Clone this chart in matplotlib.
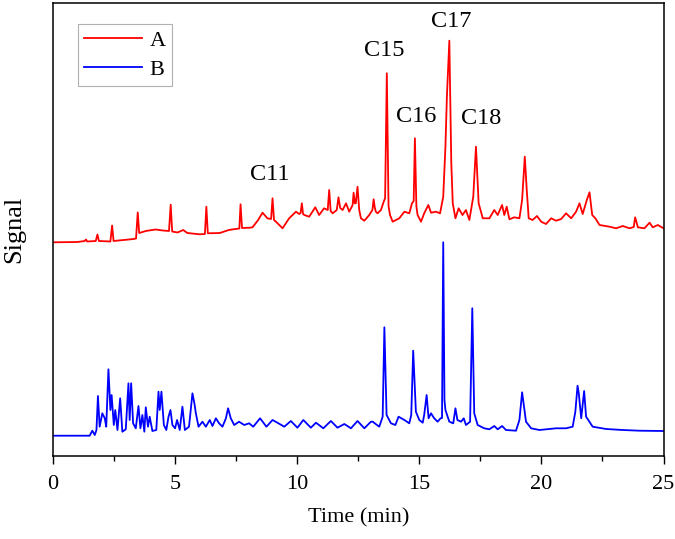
import matplotlib
matplotlib.use("Agg")
import matplotlib.pyplot as plt
from matplotlib.ticker import MultipleLocator

plt.rcParams['font.family'] = ['Liberation Serif', 'DejaVu Serif']

# Trace A (red), time in min, signal in arbitrary units (stacked)
red_time = [0, 1.0, 1.3, 1.35, 1.4, 1.75, 1.82, 1.88, 2.35, 2.42, 2.48, 3.3, 3.4, 3.47, 3.53,
            3.8, 4.2, 4.5, 4.75, 4.82, 4.88, 5.1, 5.33, 5.5, 6.0, 6.22, 6.28, 6.34, 6.83, 7.2,
            7.38, 7.63, 7.68, 7.74, 8.06, 8.17, 8.4, 8.58, 8.78, 8.93, 8.99, 9.05, 9.13, 9.4,
            9.67, 9.95, 10.08, 10.14, 10.19, 10.24, 10.29, 10.49, 10.74, 10.9, 11.1, 11.25,
            11.31, 11.37, 11.45, 11.62, 11.69, 11.76, 11.86, 12.0, 12.13, 12.27, 12.31, 12.36,
            12.4, 12.47, 12.54, 12.61, 12.75, 12.95, 13.08, 13.13, 13.18, 13.22, 13.29, 13.43,
            13.52, 13.6, 13.67, 13.74, 13.8, 13.91, 14.18, 14.39, 14.59, 14.7, 14.77, 14.82,
            14.88, 14.93, 15.07, 15.2, 15.37, 15.48, 15.68, 15.85, 15.98, 16.07, 16.13, 16.23,
            16.31, 16.37, 16.48, 16.61, 16.77, 16.91, 17.05, 17.21, 17.32, 17.43, 17.6, 17.87,
            18.07, 18.21, 18.39, 18.48, 18.58, 18.69, 18.89, 19.1, 19.21, 19.32, 19.4, 19.48,
            19.64, 19.82, 19.99, 20.19, 20.4, 20.6, 20.81, 21.01, 21.22, 21.42, 21.56, 21.69,
            21.86, 21.97, 22.08, 22.21, 22.38, 22.79, 23.06, 23.33, 23.61, 23.78, 23.84, 23.95,
            24.22, 24.43, 24.56, 24.77, 25.0]
red_signal = [213.7, 214, 215, 216.5, 214.5, 215, 221.5, 215, 214.5, 230.5, 215, 217, 217.5, 243.5, 223,
              225, 226.5, 225.5, 225, 251.3, 224.5, 223.5, 226, 223, 221.7, 222, 249.3, 222.7, 223, 226,
              226.7, 227.5, 251.7, 228, 228.3, 228.7, 236, 243.3, 237.7, 237, 257.7, 236, 234.3, 227.7,
              237.7, 244.3, 242, 243, 252.7, 242, 241, 239.3, 248.7, 241, 247.7, 246,
              266, 245, 242.7, 246, 258.7, 248, 246, 252.7, 244.3, 251, 263.3, 252.7,
              252.7, 269.3, 246, 237.7, 235.3, 241, 246, 256.7, 248, 244.3, 242.7, 246,
              252.7, 258, 382.7, 250, 241, 234.3, 237.7, 244.3, 242.7, 252.7, 255, 317.7,
              250, 241, 234.3, 242.7, 251, 243.3, 244.3, 242.7, 259.3, 309.3, 359.3, 415.3,
              293, 252.7, 237.7, 247.7, 241, 246, 236, 259.3, 309.3, 252.7, 237.7, 237.7,
              246, 241, 251, 241, 249.3, 236.7, 238.7, 237.7, 256, 299.3, 266, 237.7,
              236, 240, 234.3, 232, 237.7, 235.3, 237, 242.7, 237.7, 244.3, 252.7, 242,
              256, 263.7, 241, 237.7, 231, 229.3, 227.7, 230, 227.7, 229, 238.7, 228.7,
              227.7, 233.3, 228.7, 231, 227.7]

# Trace B (blue)
blue_time = [0, 1.5, 1.61, 1.71, 1.78, 1.84, 1.91, 2.02, 2.12, 2.18, 2.27, 2.35, 2.4, 2.49, 2.55,
             2.64, 2.75, 2.84, 2.98, 3.09, 3.14, 3.2, 3.28, 3.39, 3.5, 3.58, 3.66, 3.74, 3.8, 3.89,
             3.96, 4.07, 4.23, 4.32, 4.37, 4.44, 4.54, 4.64, 4.73, 4.81, 4.89, 5.0, 5.08, 5.19, 5.3,
             5.4, 5.57, 5.71, 5.79, 5.85, 5.96, 6.12, 6.26, 6.42, 6.53, 6.67, 6.8, 6.94, 7.08, 7.17,
             7.28, 7.42, 7.62, 7.83, 8.03, 8.2, 8.48, 8.74, 8.99, 9.19, 9.47, 9.74, 10.01, 10.25,
             10.56, 10.77, 11.07, 11.38, 11.65, 11.93, 12.2, 12.47, 12.75, 13.02, 13.09, 13.36,
             13.5, 13.57, 13.66, 13.84, 14.02, 14.15, 14.39, 14.59, 14.67, 14.75, 14.86, 15.0,
             15.14, 15.2, 15.3, 15.38, 15.48, 15.61, 15.75, 15.87, 15.93, 15.98, 16.03, 16.07,
             16.23, 16.39, 16.48, 16.56, 16.71, 16.82, 16.91, 17.08, 17.17, 17.25, 17.39, 17.66,
             17.87, 18.07, 18.21, 18.39, 18.55, 18.96, 19.1, 19.21, 19.37, 19.58, 19.92, 20.6,
             21.01, 21.28, 21.39, 21.48, 21.53, 21.63, 21.75, 21.83, 22.1, 22.65, 23.33, 24.02, 25.0]
blue_signal = [20.3, 20.3, 25.3, 21, 26, 60, 29.3, 42.7, 37.7, 29.3, 86.7, 46, 61, 31, 46,
               26, 57.7, 24.3, 26.7, 72.7, 36, 72.7, 32.7, 27.7, 50, 27.7, 41, 24.3, 48.7, 29.3,
               39.3, 25, 26, 64.3, 46, 64.3, 31, 26, 39.3, 46, 31, 27.7, 36, 26, 49.3,
               26, 29.3, 62.7, 52.7, 42.7, 29.3, 34.3, 29.3, 36, 30, 37.7, 32.7, 29.3, 37.7, 47.7,
               37.7, 31, 34.3, 31, 32.7, 29.3, 37.7, 29.3, 36, 33.3, 29.3, 35, 28.3, 36,
               28.3, 33.3, 27.7, 35, 28.3, 32, 27.7, 35, 27.7, 34.3, 34.3, 29.3,
               39.3, 128.7, 41, 32.7, 31, 39.3, 36, 32.7, 41, 105.3, 44.3, 36,
               33.3, 41, 61, 37.7, 42.7, 37.7, 34.3, 37.7, 38, 213.7, 56, 46,
               34.3, 32.7, 47.7, 36, 34.3, 37.7, 31, 34.3, 147.7, 42.7, 31, 27.7,
               26.7, 30, 26.7, 30, 26, 25.3, 36, 63.7, 34.3, 27.7, 26, 27.7,
               27.7, 29.3, 44.3, 70.3, 62.7, 37.7, 65, 39.3, 29.3, 27, 26, 25.3, 25]

peak_labels = ["C11", "C15", "C16", "C17", "C18"]
peak_label_time = [8.89, 13.55, 14.86, 16.3, 17.53]
peak_label_signal = [281, 405.5, 340, 434.5, 337]

series_names = ["A", "B"]
x_ticks = [0, 5, 10, 15, 20, 25]

fig = plt.figure(figsize=(6.75, 5.39), dpi=100)
ax = fig.add_axes([53/675, 1 - 456/539, 610.5/675, 453/539])

ax.plot(red_time, red_signal, color='#ff0000', lw=1.3, label=series_names[0])
ax.plot(blue_time, blue_signal, color='#0000ff', lw=1.3, label=series_names[1])

for lab, t, s in zip(peak_labels, peak_label_time, peak_label_signal):
    ax.text(t, s, lab, ha='center', va='center', fontsize=17.5)

ax.set_xlim(0, 25)
ax.set_ylim(0, 453)
ax.set_xticks(x_ticks)
ax.xaxis.set_minor_locator(MultipleLocator(2.5))
ax.set_yticks([])
ax.tick_params(axis='x', which='major', direction='out', length=6, width=1, labelsize=16, pad=8)
ax.tick_params(axis='x', which='minor', direction='out', length=3.5, width=1)
for sp in ax.spines.values():
    sp.set_linewidth(1.1)

ax.set_xlabel("Time (min)", fontsize=16, labelpad=10)
ax.set_ylabel("Signal", fontsize=19, labelpad=20)

leg = ax.legend(loc='upper left', bbox_to_anchor=(0.041, 0.954), borderaxespad=0,
                fontsize=16, handlelength=2.6, handletextpad=0.35, labelspacing=0.4,
                borderpad=0.28, frameon=True, fancybox=False,
                edgecolor='#b0b0b0', framealpha=1)
leg.get_frame().set_linewidth(0.8)

fig.savefig("out.png", dpi=100)
